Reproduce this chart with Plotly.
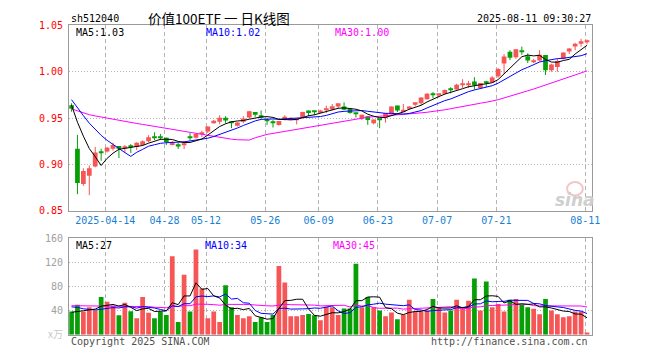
import plotly.graph_objects as go
import pandas as pd

# ---------------- data ----------------
open_ = [0.964, 0.917, 0.879, 0.888, 0.898, 0.914, 0.914, 0.917, 0.920, 0.9175,
         0.9195, 0.919, 0.921, 0.925, 0.9295, 0.929, 0.9288, 0.921, 0.9219, 0.921,
         0.9295, 0.9288, 0.9329, 0.9357, 0.9444, 0.9461, 0.9503, 0.9447, 0.9417, 0.9461,
         0.9506, 0.9566, 0.9531, 0.9475, 0.9456, 0.9427, 0.9479, 0.9485, 0.9485, 0.9506,
         0.9583, 0.9567, 0.9558, 0.959, 0.9594, 0.9625, 0.9625, 0.960, 0.955, 0.9496,
         0.9521, 0.9444, 0.948, 0.9506, 0.9542, 0.9635, 0.9573, 0.960, 0.9645, 0.9659,
         0.9704, 0.9752, 0.9752, 0.9764, 0.981, 0.9808, 0.9855, 0.9855, 0.9896, 0.9826,
         0.988, 0.9885, 0.995, 1.009, 1.0215, 1.0156, 1.0221, 1.0167, 1.0104, 1.0121,
         1.018, 1.0017, 1.0052, 1.0139, 1.0219, 1.0271, 1.0302, 1.0323]
high = [0.966, 0.932, 0.896, 0.899, 0.919, 0.917, 0.919, 0.9235, 0.920, 0.921,
        0.922, 0.924, 0.926, 0.9316, 0.9347, 0.933, 0.929, 0.9253, 0.9236, 0.9253,
        0.934, 0.934, 0.9365, 0.941, 0.948, 0.9531, 0.952, 0.9469, 0.946, 0.9521,
        0.958, 0.9566, 0.9583, 0.9496, 0.9479, 0.947, 0.9531, 0.951, 0.9496, 0.957,
        0.9583, 0.9567, 0.959, 0.9635, 0.9652, 0.9659, 0.967, 0.960, 0.9555, 0.9537,
        0.9521, 0.9485, 0.9485, 0.9555, 0.9625, 0.9635, 0.9652, 0.9628, 0.967, 0.9725,
        0.977, 0.9781, 0.976, 0.9808, 0.9833, 0.9871, 0.992, 0.9902, 0.9941, 0.9878,
        0.9902, 0.9954, 1.004, 1.019, 1.0232, 1.0243, 1.0271, 1.0198, 1.0139, 1.0232,
        1.018, 1.0086, 1.0139, 1.0208, 1.0255, 1.0312, 1.0354, 1.0347]
low = [0.957, 0.868, 0.877, 0.867, 0.897, 0.904, 0.913, 0.915, 0.907, 0.9125,
       0.9125, 0.9155, 0.920, 0.924, 0.9264, 0.9264, 0.921, 0.9205, 0.9167, 0.9167,
       0.926, 0.928, 0.9295, 0.934, 0.944, 0.9433, 0.9444, 0.9392, 0.941, 0.9444,
       0.950, 0.9514, 0.9496, 0.9427, 0.9399, 0.942, 0.9475, 0.948, 0.9433, 0.950,
       0.9521, 0.9531, 0.9555, 0.9555, 0.9583, 0.960, 0.959, 0.9548, 0.9506, 0.9479,
       0.9427, 0.9433, 0.9392, 0.9451, 0.954, 0.9566, 0.9566, 0.9594, 0.9628, 0.9642,
       0.970, 0.9715, 0.9722, 0.9756, 0.9767, 0.9808, 0.9826, 0.9826, 0.9808, 0.9819,
       0.9836, 0.9878, 0.9935, 0.998, 1.0125, 1.0139, 1.0183, 1.0094, 1.0094, 1.011,
       0.9965, 1.000, 1.000, 1.0131, 1.0191, 1.0232, 1.0271, 1.0295]
close = [0.960, 0.880, 0.893, 0.896, 0.913, 0.913, 0.918, 0.921, 0.917, 0.918,
         0.919, 0.9236, 0.925, 0.9295, 0.929, 0.9285, 0.9243, 0.9236, 0.9194, 0.9225,
         0.929, 0.9329, 0.9335, 0.9409, 0.9472, 0.9503, 0.9475, 0.9444, 0.9454, 0.9496,
         0.9573, 0.9537, 0.9503, 0.9472, 0.9454, 0.9469, 0.9514, 0.9503, 0.949, 0.9566,
         0.9555, 0.9566, 0.9583, 0.9594, 0.9628, 0.9659, 0.959, 0.9555, 0.9548, 0.9537,
         0.9479, 0.9485, 0.9479, 0.9555, 0.9625, 0.9583, 0.959, 0.9625, 0.967, 0.9722,
         0.9764, 0.975, 0.9756, 0.9802, 0.9808, 0.986, 0.986, 0.986, 0.9854, 0.9878,
         0.9878, 0.9937, 1.003, 1.0165, 1.015, 1.0243, 1.0219, 1.0121, 1.0121, 1.0183,
         1.0017, 1.0079, 1.0115, 1.0208, 1.025, 1.0302, 1.0329, 1.0336]
volume = [38.4, 49.6, 38.4, 45.3, 40.0, 62.4, 54.4, 48.0, 32.0, 52.8,
          38.9, 27.2, 62.4, 36.3, 27.2, 38.4, 32.5, 129.6, 20.8, 99.2,
          38.4, 140.8, 76.3, 27.2, 38.4, 20.8, 81.6, 45.3, 32.5, 27.2,
          30.4, 20.8, 28.8, 20.8, 32.5, 113.6, 86.4, 30.4, 30.4, 32.5,
          34.1, 32.0, 24.0, 46.4, 45.3, 32.5, 43.2, 43.2, 117.3, 45.3,
          62.4, 45.3, 40.0, 30.4, 36.8, 25.6, 33.1, 57.6, 38.4, 38.4,
          40.0, 59.2, 45.3, 36.8, 40.0, 57.6, 42.7, 56.0, 92.8, 40.0,
          88.0, 45.3, 50.7, 38.4, 57.6, 59.2, 49.6, 45.3, 42.7, 33.6,
          59.2, 40.0, 33.6, 28.8, 30.4, 38.4, 38.4, 3.7]
# closes / volumes of the 29 sessions before the first visible one (for the moving averages)
prior_close = [0.950, 0.952, 0.955, 0.953, 0.951, 0.954, 0.957, 0.956, 0.953, 0.950,
               0.952, 0.955, 0.958, 0.957, 0.956, 0.958, 0.960, 0.957, 0.955, 0.961,
               0.970, 0.975, 0.978, 0.979, 0.977, 0.972, 0.968, 0.963, 0.957]
prior_volume = [52, 45, 48, 60, 43, 50, 47, 55, 41, 49, 53, 46, 44, 58, 50, 47, 42, 51, 48, 50,
                58, 62, 50, 55, 50, 40, 35, 38, 33.6]
tick_index = [6, 16, 23, 33, 42, 52, 62, 72, 87]
tick_labels = ["2025-04-14", "04-28", "05-12", "05-26", "06-09", "06-23", "07-07", "07-21", "08-11"]
price_ticks = [0.85, 0.90, 0.95, 1.00, 1.05]
vol_ticks = [40, 80, 120, 160]

# ---------------- derived ----------------
n = len(close)
xs = list(range(n))
cl = pd.Series(prior_close + close)
vo = pd.Series(prior_volume + volume)
k = len(prior_close)
ma = {w: cl.rolling(w).mean().iloc[k:].tolist() for w in (5, 10, 30)}
vma = {w: vo.rolling(w).mean().iloc[k:].tolist() for w in (5, 10, 30)}

RED = "#f65656"
GREEN = "#06a006"
MONO = "DejaVu Sans Mono"

fig = go.Figure()

up = [i for i in xs if close[i] >= open_[i]]
dn = [i for i in xs if close[i] < open_[i]]

def wick(idx):
    wx, wy = [], []
    for i in idx:
        wx += [i, i, None]
        wy += [low[i], high[i], None]
    return wx, wy

for idx, col in ((up, RED), (dn, GREEN)):
    wx, wy = wick(idx)
    fig.add_trace(go.Scatter(x=wx, y=wy, mode="lines", line=dict(color=col, width=1),
                             hoverinfo="skip", xaxis="x", yaxis="y"))
    fig.add_trace(go.Bar(x=idx,
                         y=[max(abs(close[i] - open_[i]), 0.0011) for i in idx],
                         base=[min(close[i], open_[i]) for i in idx],
                         width=0.8, marker=dict(color=col, line=dict(width=0)),
                         xaxis="x", yaxis="y"))

for w, col in ((30, "#ff00ff"), (10, "#0000ff"), (5, "#000000")):
    fig.add_trace(go.Scatter(x=xs, y=ma[w], mode="lines", line=dict(color=col, width=1),
                             xaxis="x", yaxis="y"))

vcol = [RED if close[i] >= open_[i] else GREEN for i in xs]
fig.add_trace(go.Bar(x=xs, y=volume, width=0.8, marker=dict(color=vcol, line=dict(width=0)),
                     xaxis="x2", yaxis="y2"))
for w, col in ((30, "#ff00ff"), (10, "#0000ff"), (5, "#000000")):
    fig.add_trace(go.Scatter(x=xs, y=vma[w], mode="lines", line=dict(color=col, width=1),
                             xaxis="x2", yaxis="y2"))

W, H = 660, 360
def px(x):
    return x / W
def py(y):
    return 1 - y / H

xdom = [px(70), px(599)]
grid_x = [t - 0.3 for t in tick_index]

axis_common = dict(showline=True, mirror=True, linecolor="#9a9a9a", linewidth=1,
                   zeroline=False, ticks="")

fig.update_layout(
    width=W, height=H, margin=dict(l=0, r=0, t=0, b=0),
    paper_bgcolor="white", plot_bgcolor="white",
    showlegend=False, barmode="overlay", hovermode=False,
    xaxis=dict(domain=xdom, range=[-0.4, 87.8], anchor="y",
               tickvals=grid_x, ticktext=tick_labels,
               tickfont=dict(family=MONO, size=10, color="#1a7fd4"),
               showgrid=True, gridcolor="#b4b4b4", griddash="4px,3px", gridwidth=1,
               **axis_common),
    yaxis=dict(domain=[py(212), py(20)], range=[0.85, 1.05], anchor="x",
               tickvals=price_ticks, ticktext=["%.2f" % v for v in price_ticks],
               tickfont=dict(family=MONO, size=10, color="#ff0000"),
               showgrid=True, gridcolor="#b4b4b4", griddash="1px,2px", gridwidth=1,
               ticklabelstandoff=3, **axis_common),
    xaxis2=dict(domain=xdom, range=[-0.4, 87.8], anchor="y2", matches="x",
                tickvals=grid_x, showticklabels=False,
                showgrid=True, gridcolor="#b4b4b4", griddash="4px,3px", gridwidth=1,
                **axis_common),
    yaxis2=dict(domain=[py(340), py(240)], range=[0, 160], anchor="x2",
                tickvals=vol_ticks, ticktext=[str(v) for v in vol_ticks],
                tickfont=dict(family=MONO, size=10, color="#a0a0a0"),
                showgrid=True, gridcolor="#b4b4b4", griddash="1px,2px", gridwidth=1,
                ticklabelstandoff=3, **axis_common),
)

def txt(x, y, s, color="#000", size=10, anchor="left", family=MONO, h=None, **kw):
    fig.add_annotation(x=px(x), y=py(y), xref="paper", yref="paper", text=s,
                       showarrow=False, xanchor=anchor, yanchor="middle", height=h,
                       font=dict(family=family, size=size, color=color, **kw))

txt(70, 12, "sh512040", h=12)
txt(222, 12, "价值100ETF 一 日K线图", size=13.5, anchor="center",
    family="Noto Sans CJK SC", h=16)
txt(600, 12, "2025-08-11 09:30:27", anchor="right", h=12)
txt(75, 27, "MA5:%.2f" % ma[5][-1], h=12)
txt(206, 27, "MA10:%.2f" % ma[10][-1], color="#0000ff", h=12)
txt(337, 27, "MA30:%.2f" % ma[30][-1], color="#ff00ff", h=12)
txt(75, 247, "MA5:%d" % int(vma[5][-1]), h=12)
txt(205, 247, "MA10:%d" % int(vma[10][-1]), color="#0000ff", h=12)
txt(335, 247, "MA30:%d" % int(vma[30][-1]), color="#ff00ff", h=12)
txt(66, 338, "x万", color="#c8c8c8", anchor="right", family="Noto Sans CJK SC", h=12)
txt(70, 347, "Copyright 2025 SINA.COM", color="#505050", h=12)
txt(597, 347, "http://finance.sina.com.cn", color="#505050", anchor="right", h=12)
# faint sina watermark
fig.add_shape(type="circle", xref="paper", yref="paper",
              x0=px(574), x1=px(590), y0=py(196), y1=py(182),
              line=dict(color="#f2c6c6", width=2), fillcolor="rgba(0,0,0,0)")
txt(582, 201, "sina", color="#cfcfcf", size=17, anchor="center",
    family="DejaVu Sans", weight="bold", style="italic")

fig.write_html("out.html", config={"displayModeBar": False},
               post_script="document.body.style.margin='0';document.body.style.overflow='hidden';")
